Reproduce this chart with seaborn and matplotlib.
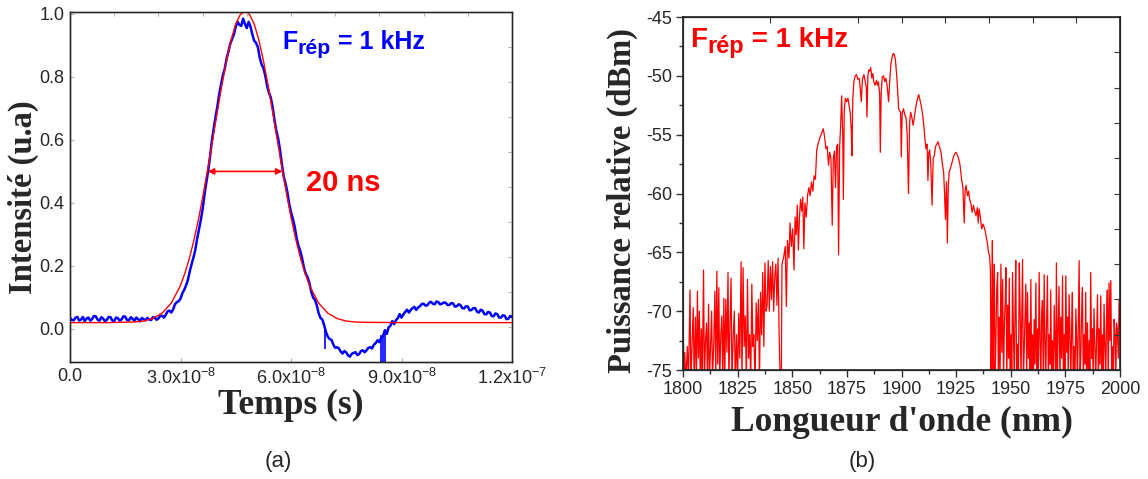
import numpy as np
import matplotlib
matplotlib.use("Agg")
import matplotlib.pyplot as plt
import seaborn as sns

sns.set_style("ticks")
plt.rcParams["font.family"] = ["Liberation Sans", "DejaVu Sans"]
plt.rcParams["mathtext.fontset"] = "custom"
plt.rcParams["mathtext.rm"] = "Liberation Sans"
plt.rcParams["mathtext.bf"] = "Liberation Sans:bold"
plt.rcParams["axes.unicode_minus"] = False

# ---- (a) pulse: oscilloscope trace, samples on whole ns and on half ns
pulse_ns = np.arange(121)
pulse_meas = [
    0.035, 0.027, 0.038, 0.030, 0.024, 0.036, 0.031, 0.040, 0.026, 0.033,
    0.029, 0.037, 0.025, 0.034, 0.030, 0.039, 0.027, 0.032, 0.036, 0.024,
    0.031, 0.035, 0.028, 0.036, 0.033, 0.042, 0.045, 0.058, 0.062, 0.085,
    0.096, 0.124, 0.155, 0.205, 0.250, 0.315, 0.380, 0.465, 0.545, 0.635,
    0.705, 0.775, 0.825, 0.880, 0.920, 0.960, 0.965, 0.985, 0.955, 0.960,
    0.915, 0.895, 0.840, 0.805, 0.750, 0.705, 0.630, 0.570, 0.485, 0.435,
    0.370, 0.325, 0.265, 0.225, 0.175, 0.145, 0.100, 0.075, 0.035, 0.012,
    -0.025, -0.035, -0.060, -0.062, -0.078, -0.075, -0.088, -0.076, -0.083, -0.070,
    -0.074, -0.060, -0.062, -0.045, -0.042, -0.022, -0.016, 0.010, 0.015, 0.034,
    0.036, 0.054, 0.052, 0.066, 0.060, 0.072, 0.080, 0.075, 0.086, 0.078,
    0.085, 0.080, 0.083, 0.076, 0.081, 0.072, 0.076, 0.065, 0.071, 0.060,
    0.066, 0.052, 0.058, 0.046, 0.052, 0.040, 0.047, 0.036, 0.042, 0.032,
    0.038,
]
pulse_half_ns = np.arange(120) + 0.5
pulse_meas_half = [
    0.029, 0.036, 0.026, 0.038, 0.033, 0.026, 0.041, 0.029, 0.037, 0.024,
    0.038, 0.027, 0.036, 0.026, 0.040, 0.028, 0.037, 0.026, 0.031, 0.035,
    0.027, 0.030, 0.037, 0.029, 0.041, 0.036, 0.056, 0.052, 0.078, 0.088,
    0.113, 0.138, 0.182, 0.226, 0.285, 0.345, 0.425, 0.500, 0.595, 0.672,
    0.745, 0.805, 0.857, 0.905, 0.935, 0.975, 0.962, 0.968, 0.975, 0.935,
    0.908, 0.862, 0.828, 0.772, 0.735, 0.665, 0.605, 0.525, 0.462, 0.398,
    0.350, 0.290, 0.248, 0.195, 0.165, 0.118, 0.092, 0.050, 0.030, -0.010,
    -0.032, -0.050, -0.058, -0.072, -0.070, -0.084, -0.079, -0.074, -0.080, -0.068,
    -0.068, -0.058, -0.050, -0.036, -0.028, -0.004, 0.005, 0.025, 0.028, 0.047,
    0.046, 0.061, 0.060, 0.070, 0.068, 0.079, 0.074, 0.083, 0.080, 0.087,
    0.078, 0.084, 0.076, 0.082, 0.071, 0.078, 0.066, 0.072, 0.059, 0.066,
    0.055, 0.061, 0.047, 0.054, 0.041, 0.049, 0.036, 0.043, 0.031, 0.041,
]
# dropouts in the trace (time ns, top, bottom)
dropout_ns = [69.3, 84.4, 84.9, 85.4]
dropout_top = [0.000, -0.020, -0.015, -0.010]
dropout_bot = [-0.065, -0.120, -0.120, -0.120]

# gaussian fit (ns, value)
fit_pts = [
    (0, 0.020), (10, 0.020), (17.5, 0.022), (20, 0.025), (22.5, 0.033),
    (25, 0.050), (27.5, 0.082), (30, 0.138), (31.25, 0.179), (32.5, 0.228),
    (33.75, 0.287), (35, 0.355), (36.25, 0.432), (37.5, 0.515), (38.75, 0.602),
    (40, 0.690), (41.25, 0.775), (42.5, 0.852), (43.75, 0.918), (45, 0.968),
    (46.25, 0.998), (47.5, 1.008), (48.75, 0.998), (50, 0.968), (51.25, 0.918),
    (52.5, 0.852), (53.75, 0.775), (55, 0.690), (56.25, 0.602), (57.5, 0.515),
    (58.75, 0.432), (60, 0.355), (61.25, 0.287), (62.5, 0.228), (63.75, 0.179),
    (65, 0.138), (67.5, 0.082), (70, 0.050), (72.5, 0.033), (75, 0.025),
    (77.5, 0.022), (80, 0.021), (90, 0.020), (120, 0.020),
]
fwhm_ns = (37.4, 57.7)
fwhm_level = 0.5

# ---- (b) spectrum (nm, dBm); values under -75 are clipped by the axis
spec_floor_left = [
    (1800.0, -69.3), (1800.4, -76), (1800.8, -73.5), (1801.3, -76), (1802.0, -73.0),
    (1802.5, -76), (1803.2, -68.2), (1803.6, -76), (1804.3, -72.0), (1804.7, -69.7),
    (1805.1, -76), (1805.7, -70.5), (1806.1, -76), (1806.6, -68.3), (1807.0, -74),
    (1807.5, -70.0), (1807.9, -76), (1808.4, -71.5), (1808.8, -76), (1809.4, -66.5),
    (1809.8, -76), (1810.3, -72.5), (1810.8, -71.0), (1811.2, -76), (1811.7, -69.4),
    (1812.1, -76), (1812.6, -73.0), (1813.1, -70.0), (1813.5, -76), (1814.1, -72.5),
    (1814.6, -68.3), (1815.0, -76), (1815.5, -66.6), (1815.9, -74.5), (1816.4, -68.0),
    (1816.8, -76), (1817.3, -72.0), (1817.8, -70.4), (1818.2, -76), (1818.7, -68.9),
    (1819.1, -76), (1819.6, -69.0), (1820.1, -73.5), (1820.6, -66.7), (1821.0, -76),
    (1821.5, -71.0), (1822.0, -67.2), (1822.4, -76), (1823.0, -72.0), (1823.5, -70.0),
    (1823.9, -76), (1824.5, -72.0), (1825.0, -76), (1825.5, -70.2), (1826.0, -74),
    (1826.6, -65.8), (1827.0, -76), (1827.5, -66.3), (1828.0, -73), (1828.5, -70.4),
    (1829.0, -76), (1829.5, -67.3), (1830.0, -74), (1830.5, -72.0), (1831.0, -76),
    (1831.5, -67.7), (1832.0, -73.0), (1832.4, -72.0), (1833.0, -76), (1833.5, -69.3),
    (1834.0, -72.5), (1834.5, -69.0), (1835.0, -76), (1835.5, -68.4), (1836.0, -72),
    (1836.5, -66.7), (1837.0, -73), (1837.5, -65.9), (1838.0, -70), (1838.5, -69.5),
    (1839.0, -65.7), (1839.5, -70), (1840.0, -66.2), (1840.5, -69), (1841.0, -65.8),
    (1841.5, -70), (1842.0, -67.0), (1842.5, -66.0), (1843.0, -69.5), (1843.5, -65.5),
    (1844.0, -72), (1844.5, -76), (1845.0, -76),
]
spec_body = [
    (1845.3, -66.0), (1846.0, -65.5), (1846.8, -64.5), (1847.3, -69.6), (1847.8, -64.0),
    (1848.5, -65.5), (1849.0, -62.5), (1849.6, -64.5), (1850.2, -63.0), (1850.8, -66.5),
    (1851.3, -62.0), (1851.8, -63.5), (1852.3, -61.0), (1852.8, -64.8), (1853.3, -62.0),
    (1853.8, -60.5), (1854.3, -61.5), (1854.8, -60.3), (1855.3, -64.7), (1855.8, -60.8),
    (1856.4, -62.0), (1857.0, -60.2), (1857.6, -59.5), (1858.2, -60.2), (1858.8, -59.0),
    (1859.4, -59.8), (1860.0, -58.5), (1860.6, -58.8), (1861.2, -56.3), (1861.8, -55.8),
    (1862.4, -55.4), (1863.0, -55.1), (1863.6, -54.8), (1864.2, -54.5), (1864.8, -55.2),
    (1865.4, -56.2), (1866.0, -56.0), (1866.6, -57.6), (1867.1, -56.5), (1867.7, -57.0),
    (1868.3, -62.7), (1868.8, -57.0), (1869.3, -56.4), (1869.8, -59.5), (1870.3, -56.0),
    (1870.8, -55.8), (1871.2, -65.2), (1871.7, -56.0), (1872.2, -54.0), (1872.6, -51.7),
    (1873.1, -55.0), (1873.4, -60.5), (1873.8, -53.0), (1874.3, -51.9), (1874.9, -52.2),
    (1875.5, -51.9), (1876.0, -52.5), (1876.5, -53.1), (1877.0, -54.5), (1877.3, -56.8),
    (1877.7, -52.0), (1878.2, -50.5), (1878.8, -50.0), (1879.4, -49.9), (1880.0, -50.3),
    (1880.6, -50.2), (1881.1, -51.0), (1881.6, -52.2), (1882.1, -50.3), (1882.8, -49.9),
    (1883.4, -50.5), (1883.9, -51.0), (1884.2, -53.5), (1884.6, -50.0), (1885.0, -49.5),
    (1885.5, -49.6), (1885.9, -49.3), (1886.4, -50.2), (1886.9, -49.8), (1887.3, -50.5),
    (1887.9, -50.8), (1888.5, -50.4), (1889.0, -50.8), (1889.4, -50.5), (1890.0, -51.5),
    (1890.3, -56.5), (1890.7, -51.5), (1891.2, -50.1), (1891.8, -50.0), (1892.3, -50.5),
    (1892.8, -50.2), (1893.4, -50.8), (1894.1, -52.2), (1894.6, -50.5), (1895.1, -49.1),
    (1895.6, -48.5), (1896.2, -48.1), (1896.7, -48.2), (1897.2, -48.6), (1897.6, -49.5),
    (1897.9, -50.2), (1898.3, -51.5), (1898.7, -52.8), (1899.2, -53.0), (1899.6, -53.1),
    (1899.9, -56.9), (1900.3, -53.2), (1900.9, -52.8), (1901.5, -53.3), (1902.1, -53.6),
    (1902.6, -55.0), (1903.2, -60.0), (1903.7, -54.0), (1904.2, -53.1), (1904.8, -53.6),
    (1905.3, -54.2), (1905.9, -53.5), (1906.4, -52.8), (1907.0, -52.2), (1907.5, -51.8),
    (1907.9, -51.6), (1908.4, -52.0), (1909.0, -52.5), (1909.6, -53.2), (1910.2, -54.2),
    (1910.7, -55.3), (1911.2, -56.2), (1911.7, -55.8), (1912.1, -58.9), (1912.5, -56.5),
    (1912.9, -56.3), (1913.4, -57.5), (1914.0, -61.0), (1914.5, -57.0), (1915.0, -56.8),
    (1915.6, -56.0), (1916.2, -55.8), (1916.7, -55.6), (1917.3, -56.0), (1918.1, -56.5),
    (1918.7, -57.5), (1919.3, -58.2), (1919.7, -60.0), (1920.1, -62.2), (1920.6, -59.0),
    (1921.0, -64.2), (1921.4, -59.5), (1921.8, -58.2), (1922.5, -57.8), (1923.2, -57.3),
    (1923.9, -56.8), (1924.5, -56.6), (1924.9, -56.5), (1925.5, -56.7), (1926.1, -57.0),
    (1926.8, -57.6), (1927.5, -58.8), (1928.1, -59.5), (1928.7, -62.5), (1929.1, -59.8),
    (1929.5, -59.3), (1930.2, -60.2), (1930.7, -59.8), (1931.2, -60.5), (1931.8, -60.9),
    (1932.3, -61.6), (1932.9, -61.0), (1933.5, -61.5), (1934.1, -61.9), (1934.7, -61.2),
    (1935.1, -62.5), (1935.5, -61.3), (1936.1, -62.0), (1936.7, -63.0), (1937.3, -62.6),
    (1938.1, -63.0), (1938.7, -63.6), (1939.3, -64.2), (1939.8, -65.0), (1940.3, -65.3),
    (1940.7, -66.5),
]
spec_floor_right = [
    (1941.0, -76), (1941.3, -70.9), (1941.6, -64.0), (1941.9, -76), (1942.2, -69.0),
    (1942.5, -66.0), (1942.8, -76), (1943.2, -72.5), (1943.6, -68.0), (1944.0, -66.7),
    (1944.3, -76), (1944.7, -70.5), (1945.1, -76), (1945.5, -66.0), (1945.9, -73.5),
    (1946.3, -67.3), (1946.7, -76), (1947.1, -71.0), (1947.5, -69.0), (1947.8, -66.3),
    (1948.2, -76), (1948.6, -69.5), (1949.0, -74.0), (1949.3, -67.2), (1949.7, -76),
    (1950.1, -72.0), (1950.5, -76), (1950.8, -66.7), (1951.2, -71.5), (1951.6, -76),
    (1952.0, -69.0), (1952.3, -65.7), (1952.7, -76), (1953.1, -72.8), (1953.5, -76),
    (1953.9, -65.9), (1954.3, -70.0), (1954.7, -76), (1955.0, -71.0), (1955.4, -65.6),
    (1955.8, -76), (1956.2, -73.0), (1956.6, -70.0), (1956.9, -67.7), (1957.3, -76),
    (1957.7, -68.4), (1958.1, -74.0), (1958.5, -71.0), (1958.8, -76), (1959.2, -67.3),
    (1959.6, -76), (1960.0, -72.0), (1960.4, -76), (1960.7, -70.7), (1961.1, -74.5),
    (1961.5, -67.6), (1961.9, -76), (1962.3, -71.5), (1962.6, -76), (1963.0, -66.7),
    (1963.4, -72.5), (1963.8, -76), (1964.1, -70.5), (1964.5, -69.1), (1964.9, -76),
    (1965.3, -66.9), (1965.7, -73.0), (1966.0, -76), (1966.4, -71.0), (1966.8, -67.0),
    (1967.2, -76), (1967.6, -72.0), (1968.0, -74.5), (1968.3, -68.2), (1968.7, -76),
    (1969.1, -72.5), (1969.5, -76), (1969.9, -69.5), (1970.3, -73.0), (1970.6, -76),
    (1970.9, -65.9), (1971.3, -76), (1971.7, -71.5), (1972.1, -67.9), (1972.5, -76),
    (1972.9, -70.5), (1973.3, -74.0), (1973.7, -67.0), (1974.1, -76), (1974.5, -72.0),
    (1974.8, -76), (1975.2, -67.0), (1975.6, -73.5), (1976.0, -70.5), (1976.3, -76),
    (1976.7, -68.6), (1977.1, -72.0), (1977.5, -76), (1977.9, -71.0), (1978.2, -68.4),
    (1978.6, -76), (1979.0, -73.0), (1979.4, -76), (1979.8, -69.8), (1980.2, -72.5),
    (1980.5, -76), (1980.9, -71.5), (1981.3, -65.7), (1981.7, -76), (1982.1, -73.5),
    (1982.4, -70.5), (1982.8, -68.0), (1983.2, -76), (1983.6, -72.0), (1984.0, -74.5),
    (1984.3, -68.4), (1984.7, -76), (1985.1, -71.0), (1985.5, -76), (1985.9, -72.5),
    (1986.2, -76), (1986.6, -66.7), (1987.0, -74.0), (1987.4, -71.5), (1987.7, -76),
    (1988.1, -69.8), (1988.5, -73.0), (1988.9, -76), (1989.3, -72.0), (1989.7, -68.6),
    (1990.1, -76), (1990.4, -71.5), (1990.8, -74.5), (1991.2, -68.7), (1991.6, -76),
    (1992.0, -72.0), (1992.3, -76), (1992.7, -69.4), (1993.1, -73.0), (1993.5, -76),
    (1993.8, -71.0), (1994.2, -68.2), (1994.6, -76), (1995.0, -67.6), (1995.4, -72.5),
    (1995.8, -67.4), (1996.2, -76), (1996.5, -73.0), (1996.9, -76), (1997.3, -70.7),
    (1997.7, -72.0), (1998.1, -76), (1998.4, -71.0), (1998.8, -71.6), (1999.2, -74.0),
    (1999.6, -69.0), (2000.0, -71.5),
]

time_ticks = [0, 3e-8, 6e-8, 9e-8, 1.2e-7]
time_labels = ["0.0", r"3.0x10$^{\mathrm{-8}}$", r"6.0x10$^{\mathrm{-8}}$",
               r"9.0x10$^{\mathrm{-8}}$", r"1.2x10$^{\mathrm{-7}}$"]
int_ticks = [0.0, 0.2, 0.4, 0.6, 0.8, 1.0]
wl_ticks = list(range(1800, 2001, 25))
db_ticks = list(range(-75, -44, 5))

xlab_font = {"family": "Liberation Serif", "weight": "bold", "size": 25.5}
ylab_font = {"family": "Liberation Serif", "weight": "bold", "size": 23.5}

fig = plt.figure(figsize=(11.48, 4.79), dpi=100)
W, H = 1148, 479
renderer = fig.canvas.get_renderer()


def frep_label(ax, host, x, y, color, size):
    """F with a lowered 'rép' and '= 1 kHz', written piece by piece."""
    kw = dict(color=color, fontweight="bold", va="baseline", zorder=10)
    t1 = host.text(x, y, "F", transform=ax.transAxes, fontsize=size, **kw)
    w1 = t1.get_window_extent(renderer).width * 72 / fig.dpi
    t2 = host.annotate("rép", xy=(x, y), xycoords=ax.transAxes,
                       xytext=(w1, -0.2 * size), textcoords="offset points",
                       fontsize=0.85 * size, **kw)
    w2 = t2.get_window_extent(renderer).width * 72 / fig.dpi
    host.annotate(" = 1 kHz", xy=(x, y), xycoords=ax.transAxes,
                  xytext=(w1 + w2, 0), textcoords="offset points",
                  fontsize=size, **kw)


# ---------------- panel (a)
ax1 = fig.add_axes([70 / W, (H - 362) / H, 442 / W, 350 / H])
trace = np.array(sorted(zip(list(pulse_ns) + list(pulse_half_ns),
                            pulse_meas + pulse_meas_half)))
sns.lineplot(x=trace[:, 0] * 1e-9, y=trace[:, 1], ax=ax1, color="#0000ff",
             lw=1.8, estimator=None, sort=False)
ax1.vlines(np.array(dropout_ns) * 1e-9, dropout_bot, dropout_top,
           color="#0000ff", lw=1.2)
fit = np.array(fit_pts)
sns.lineplot(x=fit[:, 0] * 1e-9, y=fit[:, 1], ax=ax1, color="red", lw=1.0,
             estimator=None, sort=False, zorder=5)
ax1.annotate("", xy=(fwhm_ns[0] * 1e-9, fwhm_level),
             xytext=(fwhm_ns[1] * 1e-9, fwhm_level),
             arrowprops=dict(arrowstyle="<|-|>", color="red", lw=1.2,
                             mutation_scale=9, shrinkA=0, shrinkB=0), zorder=6)
ax1.text(0.535, 0.511, "20 ns", transform=ax1.transAxes, color="red",
         fontsize=21, fontweight="bold", va="center")

ax1.set_xlim(0, 1.2e-7)
ax1.set_ylim(-0.105, 1.006)
ax1.set_xticks(time_ticks)
ax1.set_xticklabels(time_labels)
ax1.set_yticks(int_ticks)
ax1.set_yticklabels([f"{v:.1f}" for v in int_ticks])
ax1.tick_params(direction="in", length=3, width=0.8, color="#b0b0b0",
                labelsize=13, pad=4)
ax1.set_xlabel("Temps (s)", fontdict=xlab_font, labelpad=1)
ax1.set_ylabel("Intensité (u.a)", fontdict=ylab_font)
ax1.yaxis.set_label_coords(-0.07, 0.47)
for s in ax1.spines.values():
    s.set_linewidth(1.0)
    s.set_color("black")

# frame ticks every tenth of the box (top/right)
a1t = ax1.twiny()
a1t.set_xlim(0, 1)
a1t.set_xticks(np.arange(1, 10) / 10)
a1t.tick_params(direction="in", length=3, color="#b0b0b0", labeltop=False)
a1r = ax1.twinx()
a1r.set_ylim(0, 1)
a1r.set_yticks(np.arange(1, 10) / 10)
a1r.tick_params(direction="in", length=3, color="#b0b0b0", labelright=False)
frep_label(ax1, a1r, 0.48, 0.895, "#0000ff", 18)

# ---------------- panel (b)
ax2 = fig.add_axes([683 / W, (H - 370) / H, 437 / W, 353 / H])
spec = np.array(spec_floor_left + spec_body + spec_floor_right)
sns.lineplot(x=spec[:, 0], y=spec[:, 1], ax=ax2, color="red", lw=0.9,
             estimator=None, sort=False)
ax2.set_xlim(1800, 2000)
ax2.set_ylim(-75, -45)
ax2.set_xticks(wl_ticks)
ax2.set_xticks([t + 12.5 for t in wl_ticks[:-1]], minor=True)
ax2.set_yticks(db_ticks)
ax2.set_yticks([t + 2.5 for t in db_ticks[:-1]], minor=True)
ax2.tick_params(which="major", direction="out", length=5, width=1.0,
                color="#333333", labelsize=13, pad=3)
ax2.tick_params(which="minor", direction="out", length=3, width=1.0,
                color="#333333")
ax2.set_xlabel("Longueur d'onde (nm)", fontdict=xlab_font, labelpad=6)
ax2.set_ylabel("Puissance relative (dBm)", fontdict=ylab_font)
ax2.yaxis.set_label_coords(-0.103, 0.48)
for s in ax2.spines.values():
    s.set_linewidth(1.2)
    s.set_color("#222222")

a2t = ax2.twiny()
a2t.set_xlim(0, 1)
a2t.set_xticks([0.2, 0.4, 0.5, 0.6, 0.7, 0.8, 0.9])
a2t.tick_params(direction="in", length=4, color="#333333", labeltop=False)
a2r = ax2.twinx()
a2r.set_ylim(0, 1)
a2r.set_yticks(np.arange(1, 10) / 10)
a2r.tick_params(direction="in", length=4, color="#333333", labelright=False)
frep_label(ax2, a2r, 0.016, 0.915, "red", 20)

fig.text(278 / W, 1 - 462 / H, "(a)", ha="center", va="center", fontsize=16)
fig.text(862 / W, 1 - 462 / H, "(b)", ha="center", va="center", fontsize=16)

fig.savefig("out.png", dpi=100)
